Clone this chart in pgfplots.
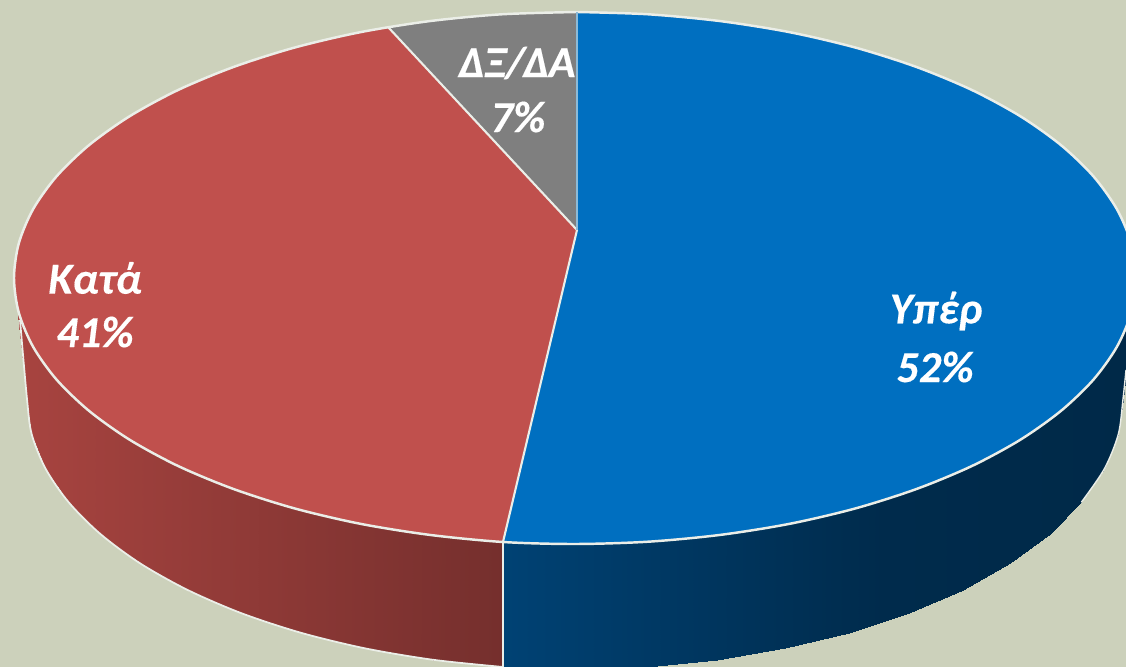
\documentclass[border=0pt]{standalone}
\usepackage{fontspec}
\setmainfont{Carlito}
\usepackage{pgfplots}
\pgfplotsset{compat=1.18}
\definecolor{bgc}{RGB}{204,209,187}
\definecolor{blueslice}{RGB}{0,111,192}
\definecolor{redslice}{RGB}{192,80,77}
\definecolor{grayslice}{RGB}{127,127,127}
\definecolor{rimc}{RGB}{235,238,232}
\begin{document}
\begin{tikzpicture}
\begin{axis}[
    scale only axis, width=11.26cm, height=6.67cm,
    xmin=0, xmax=1126, ymin=0, ymax=667, y dir=reverse,
    ticks=none, axis line style={draw=none},
    axis background/.style={fill=bgc},
    point meta rel=per plot,
    clip=true,
  ]
  % right side wall
  \addplot[surf, shader=interp, mesh/rows=2, point meta=x,
    colormap={bluewall}{rgb255(0cm)=(0,66,116); rgb255(6cm)=(0,43,76); rgb255(10cm)=(0,41,72)}]
  coordinates {
    (503,542) (575,544) (648.2,541.7) (720.2,534.9) (789.7,523.8) (855.5,508.4) (916.5,489) (971.7,466.1) (1020.1,439.9) (1060.8,411) (1093.3,379.8) (1116.9,346.8) (1131.2,312.7) (1136,278)

    (503,667) (575,669) (646.5,666.7) (716.8,659.8) (784.7,648.4) (849,632.8) (908.6,613.2) (962.5,589.9) (1009.8,563.4) (1049.6,534) (1081.3,502.3) (1104.3,468.9) (1118.3,434.2) (1123,399)
  };
  % left side wall
  \addplot[surf, shader=interp, mesh/rows=2, point meta=x,
    colormap={redwall}{rgb255(0cm)=(168,68,64); rgb255(10cm)=(117,47,45)}]
  coordinates {
    (14,278) (18.8,312.7) (33.1,346.8) (56.7,379.8) (89.2,411) (129.9,439.9) (178.3,466.1) (233.5,489) (294.5,508.4) (360.3,523.8) (429.8,534.9) (503,542)

    (27,399) (31.7,434.2) (45.7,468.9) (68.7,502.3) (100.4,534) (140.2,563.4) (187.5,589.9) (241.4,613.2) (301,632.8) (365.3,648.4) (433.2,659.8) (503,667)
  };
  % wall outlines
  \addplot[rimc, line width=0.5pt, smooth] coordinates {
    (20,320) (27,399) (31.7,434.2) (45.7,468.9) (68.7,502.3) (100.4,534) (140.2,563.4) (187.5,589.9) (241.4,613.2) (301,632.8) (365.3,648.4) (433.2,659.8) (503,667)
  };
  \addplot[rimc, line width=0.4pt, smooth] coordinates {
    (1081.3,502.3) (1104.3,468.9) (1118.3,434.2) (1123,399) (1126,370)
  };
  \addplot[rimc, line width=0.7pt] coordinates {(503,542) (503,667)};
  % top faces, outlines drawn afterwards
  \addplot[fill=blueslice, draw=none] coordinates {
    (577,230) (577,12) (648.2,14.3) (720.2,21.1) (789.7,32.2) (855.5,47.6) (916.5,67) (971.7,89.9) (1020.1,116.1) (1060.8,145) (1093.3,176.2) (1116.9,209.2) (1131.2,243.3) (1136,278) (1131.2,312.7) (1116.9,346.8) (1093.3,379.8) (1060.8,411) (1020.1,439.9) (971.7,466.1) (916.5,489) (855.5,508.4) (789.7,523.8) (720.2,534.9) (648.2,541.7) (575,544) (503,542) (577,230)
  };
  \addplot[fill=redslice, draw=none] coordinates {
    (577,230) (503,542) (429.8,534.9) (360.3,523.8) (294.5,508.4) (233.5,489) (178.3,466.1) (129.9,439.9) (89.2,411) (56.7,379.8) (33.1,346.8) (18.8,312.7) (14,278) (18.8,243.3) (33.1,209.2) (56.7,176.2) (89.2,145) (129.9,116.1) (178.3,89.9) (233.5,67) (294.5,47.6) (360.3,32.2) (388,27) (577,230)
  };
  \addplot[fill=grayslice, draw=none] coordinates {
    (577,230) (388,27) (429.8,21.1) (501.8,14.3) (577,12) (577,230)
  };
  % rim and radii
  \addplot[rimc, line width=0.7pt, smooth] coordinates {
    (577,12) (648.2,14.3) (720.2,21.1) (789.7,32.2) (855.5,47.6) (916.5,67) (971.7,89.9) (1020.1,116.1) (1060.8,145) (1093.3,176.2) (1116.9,209.2) (1131.2,243.3) (1136,278) (1131.2,312.7) (1116.9,346.8) (1093.3,379.8) (1060.8,411) (1020.1,439.9) (971.7,466.1) (916.5,489) (855.5,508.4) (789.7,523.8) (720.2,534.9) (648.2,541.7) (575,544) (503,542) (429.8,534.9) (360.3,523.8) (294.5,508.4) (233.5,489) (178.3,466.1) (129.9,439.9) (89.2,411) (56.7,379.8) (33.1,346.8) (18.8,312.7) (14,278) (18.8,243.3) (33.1,209.2) (56.7,176.2) (89.2,145) (129.9,116.1) (178.3,89.9) (233.5,67) (294.5,47.6) (360.3,32.2) (429.8,21.1) (501.8,14.3) (577,12)
  };
  \addplot[rimc, line width=0.6pt, line join=round] coordinates {(388,27) (577,230) (503,542)};
  \addplot[rimc!60!blueslice, line width=0.6pt] coordinates {(577,12) (577,230)};
  % labels
  \tikzset{lab/.style={text=white, font=\fontsize{12.6}{15}\selectfont\bfseries\itshape\addfontfeature{FakeBold=0.3}, inner sep=0pt}}
  \node[lab] at (axis cs:936,311) {Υπέρ};
  \node[lab] at (axis cs:935,367) {52\%};
  \node[lab] at (axis cs:95,278) {Κατά};
  \node[lab] at (axis cs:95,332) {41\%};
  \node[lab] at (axis cs:517,63) {ΔΞ/ΔΑ};
  \node[lab] at (axis cs:518,117) {7\%};
\end{axis}
\end{tikzpicture}
\end{document}
